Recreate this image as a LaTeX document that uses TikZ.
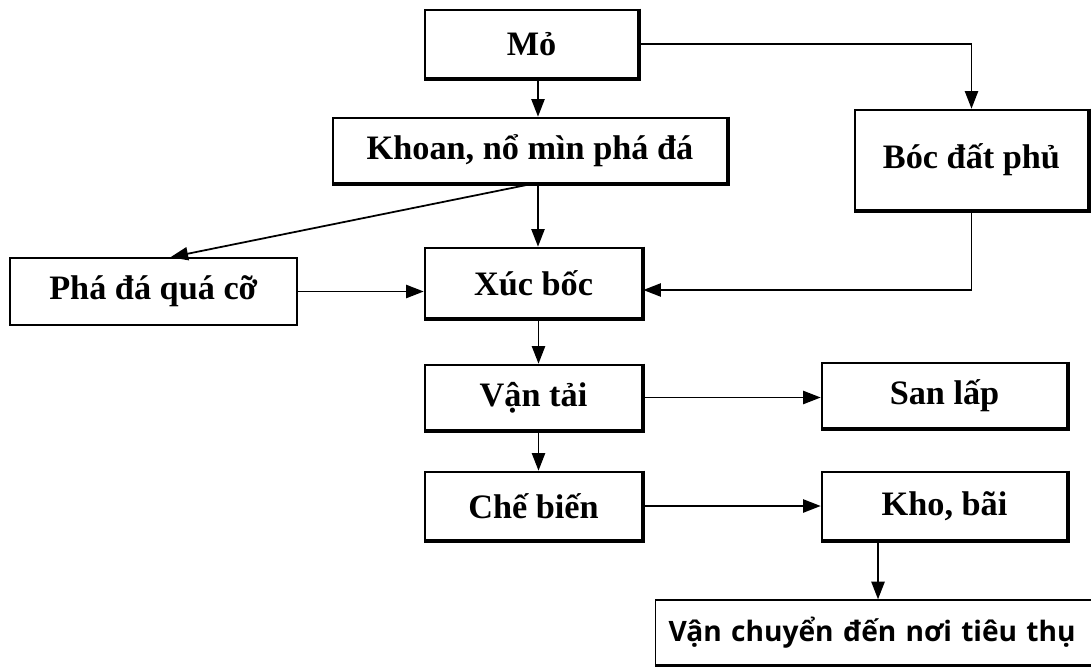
\documentclass[tikz,border=0pt]{standalone}
\usepackage{fontspec}
\setmainfont{Liberation Serif}
\newfontfamily\tahoma{Open Sans}
\usetikzlibrary{arrows.meta}

\tikzset{
  stepbox/.style={draw, line width=1.5pt, inner sep=0pt, font=\fontsize{19.5}{21}\selectfont\bfseries},
  arr/.style={-{Triangle[length=10pt,width=7.5pt]}, line width=1pt}
}

\begin{document}
\begin{tikzpicture}[x=0.02cm, y=-0.02cm]
\useasboundingbox (0,0) rectangle (1091,672);
\clip (0,0) rectangle (1091,672);
%boxes, centres in pixels
\node[stepbox, minimum width=4.26cm, minimum height=1.36cm] (mo) at (531.5,44) {Mỏ};
\node[stepbox, minimum width=7.88cm, minimum height=1.30cm] (khoan) at (530,150.5) {Khoan, nổ mìn phá đá};
\node[stepbox, minimum width=4.66cm, minimum height=2.00cm] (boc) at (971.5,160) {Bóc đất phủ};
\node[stepbox, line width=0.9pt, minimum width=5.74cm, minimum height=1.34cm] (pha) at (153.5,291.5) {Phá đá quá cỡ};
\node[stepbox, minimum width=4.34cm, minimum height=1.40cm] (xuc) at (533.5,283) {Xúc bốc};
\node[stepbox, minimum width=4.34cm, minimum height=1.30cm] (vantai) at (533.5,397.5) {Vận tải};
\node[stepbox, minimum width=4.90cm, minimum height=1.30cm] (sanlap) at (944.5,395.5) {San lấp};
\node[stepbox, minimum width=4.34cm, minimum height=1.36cm] (chebien) at (533.5,506) {Chế biến};
\node[stepbox, minimum width=4.90cm, minimum height=1.36cm] (kho) at (944.5,506) {Kho, bãi};
\node[stepbox, line width=0.8pt, anchor=west, inner xsep=0.26cm, text width=9.2cm, align=left, minimum height=1.30cm, font=\fontsize{16}{18}\selectfont\tahoma\bfseries] (vanchuyen) at (655,632.5) {Vận chuyển đến nơi tiêu thụ};
\draw[line width=1.8pt] (vanchuyen.south west) -- (vanchuyen.south east);%heavier bottom edge

%heavier right and bottom edges
\foreach \b in {mo,khoan,boc,xuc,vantai,sanlap,chebien,kho}
  \draw[line width=2.4pt] (\b.north east) -- (\b.south east) -- (\b.south west);

%connectors
\draw[arr] ([xshift=0.13cm]mo.south) -- ([xshift=0.13cm]mo.south |- khoan.north);
\draw[arr] (mo.east) -| (boc.north);
\draw[arr] ([xshift=0.16cm]khoan.south) -- ([xshift=0.16cm]khoan.south |- xuc.north);
\draw[arr] (khoan.south) -- ([xshift=0.34cm]pha.north);
\draw[arr] (boc.south) |- ([yshift=-0.14cm]xuc.east);
\draw[arr] (pha.east) -- (pha.east -| xuc.west);
\draw[arr] ([xshift=0.1cm]xuc.south) -- ([xshift=0.1cm]xuc.south |- vantai.north);
\draw[arr] (vantai.east) -- (vantai.east -| sanlap.west);
\draw[arr] ([xshift=0.1cm]vantai.south) -- ([xshift=0.1cm]vantai.south |- chebien.north);
\draw[arr] (chebien.east) -- (chebien.east -| kho.west);
\draw[arr] ([xshift=-1.33cm]kho.south) -- ([xshift=-1.33cm]kho.south |- vanchuyen.north);
\end{tikzpicture}
\end{document}
